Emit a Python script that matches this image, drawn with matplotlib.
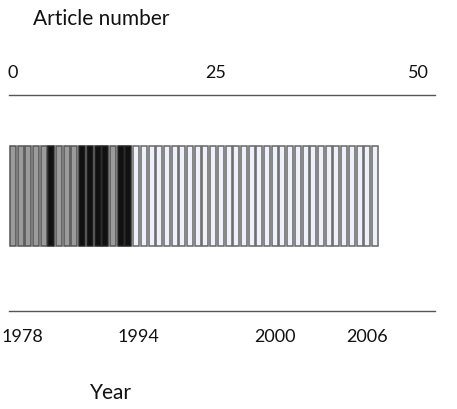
import matplotlib
matplotlib.use("Agg")
import matplotlib.pyplot as plt
import numpy as np

# one bar per article, coloured by group
# g = grey, b = black, w = white
article_kind = ["g", "g", "g", "g", "g", "b", "g", "g", "g", "b", "b", "b", "b", "g", "b", "b"] + ["w"] * 32

# top axis: article number
article_ticks = [0, 25, 50]

# bottom axis: year labels and the bar index they sit under
year_labels = ["1978", "1994", "2000", "2006"]
year_pos = [1.7, 16.8, 34.5, 46.5]

fill = {"g": "#9b9b9b", "b": "#111111", "w": "#eef0fa"}
edge = {"g": "#555555", "b": "#222222", "w": "#666666"}

plt.rcParams["font.family"] = ["Lato", "DejaVu Sans"]

fig = plt.figure(figsize=(4.57, 4.09), dpi=100)
ax = fig.add_axes([9 / 457, 98 / 409, 426 / 457, 216 / 409])

idx = np.arange(len(article_kind))
ax.bar(idx + 0.5, 0.464, bottom=0.3, width=0.78,
       color=[fill[k] for k in article_kind],
       edgecolor=[edge[k] for k in article_kind], linewidth=1.1)

ax.set_xlim(0, 55.3)
ax.set_ylim(0, 1)
ax.set_yticks([])
for s in ["left", "right"]:
    ax.spines[s].set_visible(False)
for s in ["top", "bottom"]:
    ax.spines[s].set_color("#555555")
    ax.spines[s].set_linewidth(1.0)

ax.set_xticks(year_pos, year_labels)
ax.tick_params(axis="x", length=0, pad=13, labelsize=13, colors="#111111")

# article number scale on top
sec = ax.secondary_xaxis("top", functions=(lambda x: (x - 0.45) / 1.053,
                                           lambda a: a * 1.053 + 0.45))
sec.set_xticks(article_ticks)
sec.spines["top"].set_visible(False)
sec.tick_params(length=0, pad=10, labelsize=13, colors="#111111")

fig.text(33 / 457, 1 - 19 / 409, "Article number", fontsize=15, va="center", ha="left", color="#111111")
fig.text(90 / 457, 1 - 393 / 409, "Year", fontsize=15, va="center", ha="left", color="#111111")

fig.savefig("out.png", dpi=100)
